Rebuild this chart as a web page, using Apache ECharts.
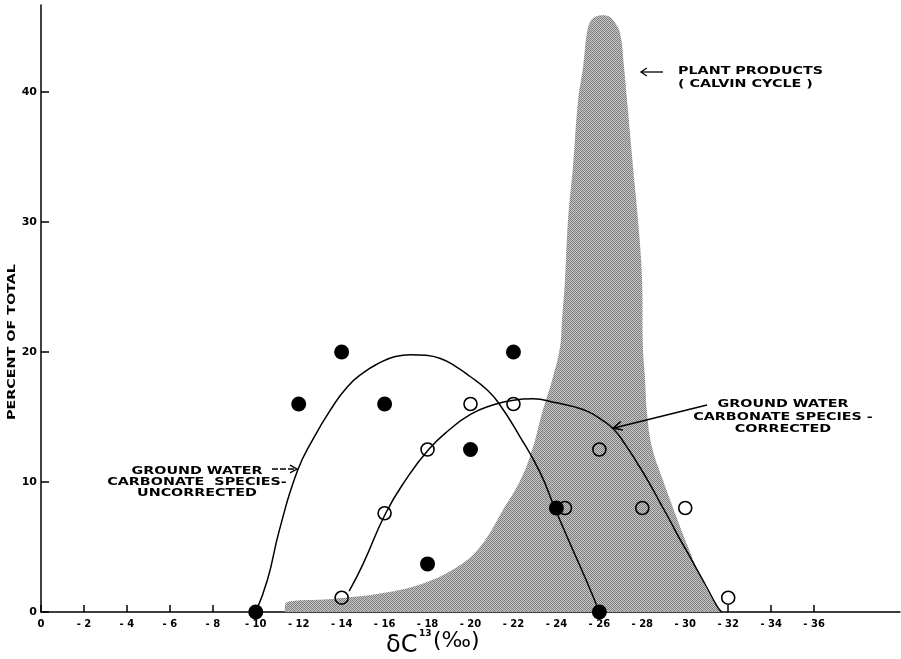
<!DOCTYPE html>
<html><head><meta charset="utf-8">
<script src="https://cdn.jsdelivr.net/npm/echarts@6/dist/echarts.min.js"></script>
<style>html,body{margin:0;padding:0;background:#fff}#c{width:901px;height:659px}</style>
</head><body><div id="c"></div>
<script>
// Tick values
const xTickValues = [0,-2,-4,-6,-8,-10,-12,-14,-16,-18,-20,-22,-24,-26,-28,-30,-32,-34,-36];
const yTickValues = [0,10,20,30,40];

// Ground water carbonate species - uncorrected (filled circles)
const uncorrectedX = [-10,-12,-14,-16,-18,-20,-22,-24,-26];
const uncorrectedY = [0,16,20,16,3.7,12.5,20,8,0];

// Ground water carbonate species - corrected (open circles)
const correctedX = [-14,-16,-18,-20,-22,-24.4,-26,-28,-30,-32];
const correctedY = [1.1,7.6,12.5,16,16,8,12.5,8,8,1.1];

// Hand-drawn fitted curve, uncorrected
const uncorrectedCurveX = [-10,-10.55,-11.1,-11.95,-12.7,-13.5,-14.25,-15.0,-15.8,-16.5,-17.2,-17.9,-18.6,-19.3,-20,-20.7,-21.3,-22.3,-23.25,-23.9,-24.6,-25.4,-26];
const uncorrectedCurveY = [0,2.5,6.3,10.9,13.4,15.6,17.3,18.4,19.2,19.65,19.8,19.75,19.5,18.9,18.1,17.2,16.1,13.5,10.7,8.1,5.4,2.4,0];

// Hand-drawn fitted curve, corrected
const correctedCurveX = [-14.35,-15,-16.05,-17,-18.05,-19,-20,-21,-22,-22.9,-24,-24.8,-25.5,-26.1,-26.7,-27.2,-27.75,-28.3,-28.8,-29.3,-29.75,-30.2,-30.6,-31.05,-31.5,-31.7];
const correctedCurveY = [1.6,3.7,7.6,10.2,12.5,14.0,15.2,15.9,16.3,16.4,16.1,15.8,15.4,14.8,14.0,12.9,11.5,10.0,8.5,7.0,5.6,4.3,3.1,1.75,0.4,0];

// Plant products (Calvin cycle) distribution outline
const plantX = [-11.35,-11.4,-13.5,-15.93,-17.97,-19.65,-20.58,-21.51,-22.35,-22.91,-23.33,-23.8,-24.17,-24.26,-24.4,-24.54,-24.77,-25.01,-25.24,-25.42,-25.56,-25.8,-26.13,-26.4,-26.64,-26.96,-27.15,-27.29,-27.57,-27.8,-27.99,-28.03,-28.13,-28.22,-28.45,-28.96,-29.52,-30.13,-30.78,-31.48,-31.66];
const plantY = [0,0.69,1.0,1.46,2.31,3.77,5.31,7.85,10.23,12.69,15.31,17.85,20.38,22.46,25.54,30.15,34.23,39.38,41.92,44.54,45.38,45.77,45.92,45.85,45.54,44.54,41.92,39.38,34.23,30.15,25.54,20.38,17.85,15.31,12.69,10.15,7.62,5.0,2.46,0.38,0];

const pair = (xs, ys) => xs.map((x, i) => [x, ys[i]]);

// halftone-like pattern for the shaded area
const pc = document.createElement('canvas');
pc.width = 4; pc.height = 4;
const pctx = pc.getContext('2d');
const shades = [
  ['#777','#c8c8c8','#8a8a8a','#bdbdbd'],
  ['#c4c4c4','#808080','#cfcfcf','#7c7c7c'],
  ['#8c8c8c','#c0c0c0','#747474','#c9c9c9'],
  ['#cbcbcb','#7e7e7e','#c2c2c2','#868686']
];
for (let r = 0; r < 4; r++) for (let c = 0; c < 4; c++) { pctx.fillStyle = shades[r][c]; pctx.fillRect(c, r, 1, 1); }

const FONT = 'bold 11px "DejaVu Sans"';
const SX = 1.3;

function arrowHead(tipX, tipY, fromX, fromY, len, ang) {
  const dx = fromX - tipX, dy = fromY - tipY;
  const d = Math.hypot(dx, dy); const ux = dx / d, uy = dy / d;
  const r = (a) => [tipX + len * (ux * Math.cos(a) - uy * Math.sin(a)), tipY + len * (ux * Math.sin(a) + uy * Math.cos(a))];
  return [r(ang), [tipX, tipY], r(-ang)];
}

const chart = echarts.init(document.getElementById('c'), null, { renderer: 'canvas' });
chart.setOption({
  animation: false,
  backgroundColor: '#fff',
  grid: { left: 41, right: 1, top: 5, bottom: 47, containLabel: false, outerBoundsMode: 'none' },
  xAxis: {
    type: 'value', min: -40, max: 0, inverse: true,
    axisLine: { show: true, onZero: false, lineStyle: { color: '#000', width: 1.5 } },
    axisTick: { show: true, inside: true, length: 7, customValues: xTickValues, lineStyle: { color: '#000', width: 1.5 } },
    axisLabel: {
      customValues: xTickValues, margin: 7, color: '#000',
      fontFamily: 'DejaVu Sans', fontWeight: 'bold', fontSize: 10,
      formatter: v => v === 0 ? '0' : '- ' + Math.abs(v)
    },
    splitLine: { show: false }
  },
  yAxis: {
    type: 'value', min: 0, max: 46.7,
    axisLine: { show: true, onZero: false, lineStyle: { color: '#000', width: 1.5 } },
    axisTick: { show: true, inside: true, length: 8, customValues: yTickValues, lineStyle: { color: '#000', width: 1.5 } },
    axisLabel: { customValues: yTickValues, margin: 4, color: '#000', fontFamily: 'DejaVu Sans', fontWeight: 'bold', fontSize: 11 },
    splitLine: { show: false }
  },
  series: [
    {
      name: 'Plant products', type: 'line', data: pair(plantX, plantY), smooth: 0.4,
      symbol: 'none', lineStyle: { width: 0, opacity: 0 },
      areaStyle: { color: { image: pc, repeat: 'repeat' }, opacity: 1 }, z: 1, silent: true
    },
    {
      name: 'Uncorrected curve', type: 'line', data: pair(uncorrectedCurveX, uncorrectedCurveY), smooth: 0.5,
      symbol: 'none', lineStyle: { color: '#000', width: 1.5 }, z: 3, silent: true
    },
    {
      name: 'Corrected curve', type: 'line', data: pair(correctedCurveX, correctedCurveY), smooth: 0.5,
      symbol: 'none', lineStyle: { color: '#000', width: 1.5 }, z: 3, silent: true
    },
    {
      name: 'Corrected', type: 'scatter', data: pair(correctedX, correctedY), symbol: 'circle', symbolSize: 13,
      itemStyle: { color: 'rgba(255,255,255,0)', borderColor: '#000', borderWidth: 1.6, opacity: 1 }, z: 4, silent: true
    },
    {
      name: 'Uncorrected', type: 'scatter', data: pair(uncorrectedX, uncorrectedY), symbol: 'circle', symbolSize: 15,
      itemStyle: { color: '#000', opacity: 1 }, z: 5, silent: true
    }
  ],
  graphic: [
    { type: 'text', z: 100, x: 12, y: 342, rotation: Math.PI / 2, scaleX: SX,
      style: { text: 'PERCENT OF TOTAL', font: FONT, fill: '#000', align: 'center', verticalAlign: 'middle' } },
    { type: 'text', z: 100, x: 386, y: 646,
      style: { text: 'δC', font: 'normal 24px "DejaVu Sans"', fill: '#000', align: 'left', verticalAlign: 'middle' } },
    { type: 'text', z: 100, x: 419, y: 634,
      style: { text: '13', font: 'bold 9px "DejaVu Sans"', fill: '#000', align: 'left', verticalAlign: 'middle' } },
    { type: 'text', z: 100, x: 433, y: 641,
      style: { text: '(‰)', font: 'normal 22px "DejaVu Sans"', fill: '#000', align: 'left', verticalAlign: 'middle' } },
    // Plant products label
    { type: 'text', z: 100, x: 678, y: 78, scaleX: SX,
      style: { text: 'PLANT PRODUCTS\n( CALVIN CYCLE )', font: FONT, fill: '#000', align: 'left', verticalAlign: 'middle', lineHeight: 13 } },
    { type: 'line', z: 100, shape: { x1: 663, y1: 72, x2: 641, y2: 72 }, style: { stroke: '#000', lineWidth: 1.3 } },
    { type: 'polyline', z: 100, shape: { points: arrowHead(641, 72, 663, 72, 7, 0.6) }, style: { stroke: '#000', lineWidth: 1.3, fill: null } },
    // Uncorrected label
    { type: 'text', z: 100, x: 197, y: 482, scaleX: SX,
      style: { text: 'GROUND WATER\nCARBONATE  SPECIES-\nUNCORRECTED', font: FONT, fill: '#000', align: 'center', verticalAlign: 'middle', lineHeight: 11 } },
    { type: 'line', z: 100, shape: { x1: 272, y1: 469, x2: 296, y2: 469 }, style: { stroke: '#000', lineWidth: 1.3, lineDash: [6, 2] } },
    { type: 'polyline', z: 100, shape: { points: arrowHead(297, 469, 272, 469, 8, 0.5) }, style: { stroke: '#000', lineWidth: 1.3, fill: null } },
    // Corrected label
    { type: 'text', z: 100, x: 783, y: 417, scaleX: SX,
      style: { text: 'GROUND WATER\nCARBONATE SPECIES -\nCORRECTED', font: FONT, fill: '#000', align: 'center', verticalAlign: 'middle', lineHeight: 12.5 } },
    { type: 'line', z: 100, shape: { x1: 707, y1: 405, x2: 614, y2: 428 }, style: { stroke: '#000', lineWidth: 1.5 } },
    { type: 'polyline', z: 100, shape: { points: arrowHead(613, 428, 707, 405, 10, 0.45) }, style: { stroke: '#000', lineWidth: 1.5, fill: null } }
  ]
});
</script>
</body></html>
